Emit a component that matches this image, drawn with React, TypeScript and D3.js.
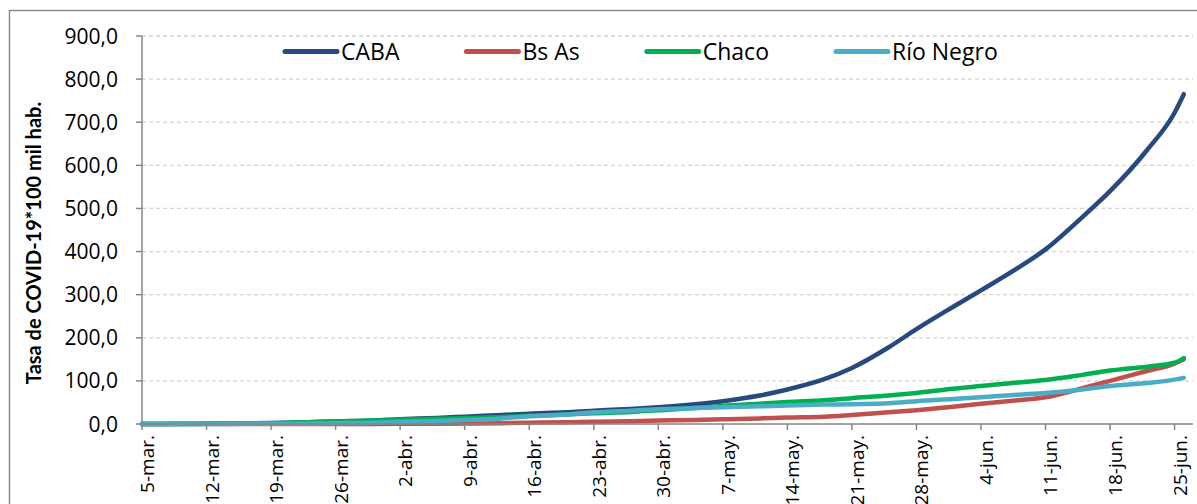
import { useEffect, useRef } from "react";
import * as d3 from "d3";

const sampleDates = [
  "2020-03-05", "2020-03-09", "2020-03-12", "2020-03-16", "2020-03-19", "2020-03-23",
  "2020-03-26", "2020-03-30", "2020-04-02", "2020-04-06", "2020-04-09", "2020-04-13",
  "2020-04-16", "2020-04-20", "2020-04-23", "2020-04-27", "2020-04-30", "2020-05-04",
  "2020-05-07", "2020-05-11", "2020-05-14", "2020-05-18", "2020-05-21", "2020-05-25",
  "2020-05-28", "2020-06-01", "2020-06-04", "2020-06-08", "2020-06-11", "2020-06-15",
  "2020-06-18", "2020-06-22", "2020-06-25", "2020-06-26",
];

const caba = [
  0, 0.3, 0.7, 1.5, 2.5, 4, 6, 8, 11, 14, 17, 21, 24, 27, 31, 35, 39, 46, 53, 66,
  80, 104, 130, 178, 220, 272, 310, 362, 405, 480, 540, 635, 722, 765,
];
const bsAs = [
  0, 0, 0, 0, 0, 0, 0, 0, 0.3, 0.6, 1, 2, 3, 4, 5, 6.5, 8, 9.5, 11, 13,
  15, 17, 21, 27, 32, 40, 47, 55, 62, 83, 100, 123, 140, 150,
];
const chaco = [
  0, 0, 0.3, 1, 2, 4, 6, 8, 10, 12, 14, 16, 19, 22, 25, 28, 32, 37, 42, 47,
  51, 55, 60, 66, 72, 82, 88, 96, 102, 114, 124, 133, 142, 153,
];
const rioNegro = [
  0, 0, 0, 0.3, 0.6, 1, 2, 3, 5, 7, 9, 13, 18, 22, 27, 31, 34, 37, 39, 41,
  43, 45, 46, 48, 53, 58, 62, 68, 72, 80, 88, 95, 103, 107,
];

const seriesNames = ["CABA", "Bs As", "Chaco", "Río Negro"];
const seriesColors = ["#264A7E", "#C0504D", "#00B050", "#4BACC6"];

const tickLabels = [
  "5-mar.", "12-mar.", "19-mar.", "26-mar.", "2-abr.", "9-abr.", "16-abr.", "23-abr.",
  "30-abr.", "7-may.", "14-may.", "21-may.", "28-may.", "4-jun.", "11-jun.", "18-jun.", "25-jun.",
];
const yTicks = [0, 100, 200, 300, 400, 500, 600, 700, 800, 900];
const yTitle = "Tasa de COVID-19*100 mil hab.";

const FONT = "'Open Sans', Lato, sans-serif";
const TITLE_FONT = "Lato, 'Open Sans', sans-serif";

export default function App() {
  const svgRef = useRef<SVGSVGElement>(null);

  useEffect(() => {
    if (!svgRef.current) return;
    const svg = d3.select(svgRef.current);
    svg.selectAll("*").remove();

    const W = 1197;
    const H = 504;
    const plot = { left: 142, right: 1193, top: 36, bottom: 424 };

    const parse = d3.timeParse("%Y-%m-%d");
    const dates = sampleDates.map((s) => parse(s) as Date);
    const start = dates[0];
    const end = d3.timeDay.offset(start, 114);
    const tickDates = tickLabels.map((_, i) => d3.timeDay.offset(start, i * 7));

    const x = d3.scaleTime().domain([start, end]).range([plot.left, plot.right]);
    const y = d3.scaleLinear().domain([0, 900]).range([plot.bottom, plot.top]);

    // outer frame
    svg
      .append("rect")
      .attr("x", 9.5)
      .attr("y", 10.5)
      .attr("width", W + 10)
      .attr("height", H + 10)
      .attr("fill", "white")
      .attr("stroke", "#8c8c8c")
      .attr("stroke-width", 1.5);

    // gridlines
    svg
      .append("g")
      .selectAll("line")
      .data(yTicks.filter((d) => d > 0))
      .enter()
      .append("line")
      .attr("x1", plot.left)
      .attr("x2", plot.right)
      .attr("y1", (d) => y(d))
      .attr("y2", (d) => y(d))
      .attr("stroke", "#d4d4d4")
      .attr("stroke-width", 1.3)
      .attr("stroke-dasharray", "4,3");

    // y axis
    const yAxis = svg.append("g");
    yAxis
      .append("line")
      .attr("x1", plot.left)
      .attr("x2", plot.left)
      .attr("y1", plot.top)
      .attr("y2", plot.bottom)
      .attr("stroke", "#868686")
      .attr("stroke-width", 1.5);
    yAxis
      .selectAll(".ytick")
      .data(yTicks)
      .enter()
      .append("line")
      .attr("x1", plot.left - 6)
      .attr("x2", plot.left)
      .attr("y1", (d) => y(d))
      .attr("y2", (d) => y(d))
      .attr("stroke", "#868686")
      .attr("stroke-width", 1.5);
    yAxis
      .selectAll("text")
      .data(yTicks)
      .enter()
      .append("text")
      .attr("x", 118)
      .attr("y", (d) => y(d))
      .attr("dy", "0.36em")
      .attr("text-anchor", "end")
      .attr("font-family", FONT)
      .attr("font-size", 21)
      .attr("fill", "#000")
      .text((d) => d.toFixed(1).replace(".", ","));

    svg
      .append("text")
      .attr("transform", `translate(41,243) rotate(-90)`)
      .attr("text-anchor", "middle")
      .attr("font-family", TITLE_FONT)
      .attr("font-weight", "bold")
      .attr("font-size", 20)
      .attr("fill", "#000")
      .text(yTitle);

    // series
    const line = d3
      .line<number>()
      .x((_, i) => x(dates[i]))
      .y((d) => y(d))
      .curve(d3.curveMonotoneX);

    [caba, bsAs, chaco, rioNegro].forEach((vals, k) => {
      svg
        .append("path")
        .datum(vals)
        .attr("d", line)
        .attr("fill", "none")
        .attr("stroke", seriesColors[k])
        .attr("stroke-width", 4.5)
        .attr("stroke-linecap", "round")
        .attr("stroke-linejoin", "round");
    });

    // x axis
    const xAxis = svg.append("g");
    xAxis
      .append("line")
      .attr("x1", plot.left)
      .attr("x2", plot.right)
      .attr("y1", plot.bottom)
      .attr("y2", plot.bottom)
      .attr("stroke", "#868686")
      .attr("stroke-width", 1.5);
    xAxis
      .selectAll(".xtick")
      .data(tickDates)
      .enter()
      .append("line")
      .attr("x1", (d) => x(d))
      .attr("x2", (d) => x(d))
      .attr("y1", plot.bottom)
      .attr("y2", plot.bottom + 6)
      .attr("stroke", "#868686")
      .attr("stroke-width", 1.5);
    xAxis
      .selectAll("text")
      .data(tickDates)
      .enter()
      .append("text")
      .attr("transform", (d) => `translate(${x(d) + 12},435) rotate(-90)`)
      .attr("text-anchor", "end")
      .attr("font-family", FONT)
      .attr("font-size", 19)
      .attr("fill", "#000")
      .text((_, i) => tickLabels[i]);

    // legend
    const legend = svg.append("g");
    let lx = 285;
    seriesNames.forEach((name, k) => {
      legend
        .append("line")
        .attr("x1", lx)
        .attr("x2", lx + 52)
        .attr("y1", 51.5)
        .attr("y2", 51.5)
        .attr("stroke", seriesColors[k])
        .attr("stroke-width", 5)
        .attr("stroke-linecap", "round");
      const t = legend
        .append("text")
        .attr("x", lx + 56)
        .attr("y", 60)
        .attr("font-family", FONT)
        .attr("font-size", 23)
        .attr("fill", "#000")
        .text(name);
      const tw = (t.node() as SVGTextElement).getComputedTextLength();
      lx += 56 + tw + 67;
    });
  }, []);

  return (
    <svg
      ref={svgRef}
      width={1197}
      height={504}
      style={{ position: "absolute", left: 0, top: 0, background: "#fff" }}
    />
  );
}
